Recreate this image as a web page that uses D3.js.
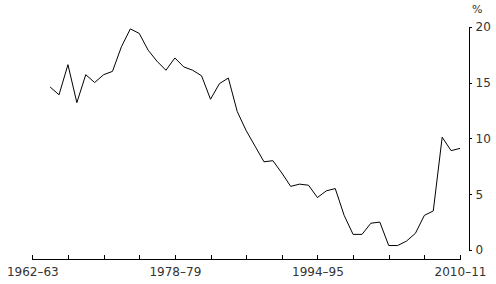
<!DOCTYPE html>
<html>
<head>
<meta charset="utf-8">
<script src="https://cdn.jsdelivr.net/npm/d3@7"></script>
<style>
  body { margin: 0; background: #fff; }
  svg text { font-family: "DejaVu Sans", sans-serif; fill: #333; }
  .axis path, .axis line { stroke: #000; shape-rendering: crispEdges; }
</style>
</head>
<body>
<div id="chart"></div>
<script>
// financial years shown on the line
let years = ["1964–65","1965–66","1966–67","1967–68","1968–69","1969–70","1970–71","1971–72",
    "1972–73","1973–74","1974–75","1975–76","1976–77","1977–78","1978–79","1979–80",
    "1980–81","1981–82","1982–83","1983–84","1984–85","1985–86","1986–87","1987–88",
    "1988–89","1989–90","1990–91","1991–92","1992–93","1993–94","1994–95","1995–96",
    "1996–97","1997–98","1998–99","1999–00","2000–01","2001–02","2002–03","2003–04",
    "2004–05","2005–06","2006–07","2007–08","2008–09","2009–10","2010–11"];

// per cent
let values = [14.6, 13.9, 16.6, 13.2, 15.7, 15.0, 15.7, 16.0,
    18.2, 19.8, 19.4, 17.9, 16.9, 16.1, 17.2, 16.4,
    16.1, 15.6, 13.5, 14.9, 15.4, 12.4, 10.7, 9.3,
    7.9, 8.0, 6.9, 5.7, 5.9, 5.8, 4.7, 5.3,
    5.5, 3.1, 1.4, 1.4, 2.4, 2.5, 0.4, 0.4,
    0.8, 1.5, 3.1, 3.5, 10.1, 8.9, 9.1];

// x axis: every 4th year gets a tick, only these get a label
let tickYears = ["1962–63","1966–67","1970–71","1974–75","1978–79","1982–83","1986–87",
    "1990–91","1994–95","1998–99","2002–03","2006–07","2010–11"];
let labelYears = ["1962–63","1978–79","1994–95","2010–11"];

let yTicks = [0, 5, 10, 15, 20];

let width = 496, height = 284;

let svg = d3.select("#chart").append("svg")
    .attr("width", width)
    .attr("height", height);

let startYear = d => +d.slice(0, 4);

let x = d3.scaleLinear()
    .domain([1962, 2010])
    .range([32.3, 460]);

let y = d3.scaleLinear()
    .domain([0, 20])
    .range([250, 26.7]);

let xAxis = d3.axisBottom(x)
    .tickValues(tickYears.map(startYear))
    .tickSize(-4)
    .tickSizeOuter(-4)
    .tickPadding(9)
    .tickFormat(d => {
        let lab = labelYears.find(l => startYear(l) === d);
        return lab ? lab : "";
    });

svg.append("g")
    .attr("class", "x-axis axis")
    .attr("transform", "translate(0,258.5)")
    .call(xAxis)
    .call(g => g.selectAll("text").style("font-size", "12px").attr("fill", "#333"));

let yAxis = d3.axisRight(y)
    .tickValues(yTicks)
    .tickSize(3)
    .tickSizeOuter(3)
    .tickPadding(4);

svg.append("g")
    .attr("class", "y-axis axis")
    .attr("transform", "translate(468.5,0)")
    .call(yAxis)
    .call(g => g.selectAll("text").style("font-size", "12px").attr("fill", "#333"));

svg.append("text")
    .attr("x", 472)
    .attr("y", 13)
    .style("font-size", "11px")
    .text("%");

let data = years.map((d, i) => ({ year: startYear(d), value: values[i] }));

let line = d3.line()
    .x(d => x(d.year))
    .y(d => y(d.value));

svg.append("path")
    .datum(data)
    .attr("fill", "none")
    .attr("stroke", "#000")
    .attr("stroke-width", 1)
    .attr("d", line);
</script>
</body>
</html>
